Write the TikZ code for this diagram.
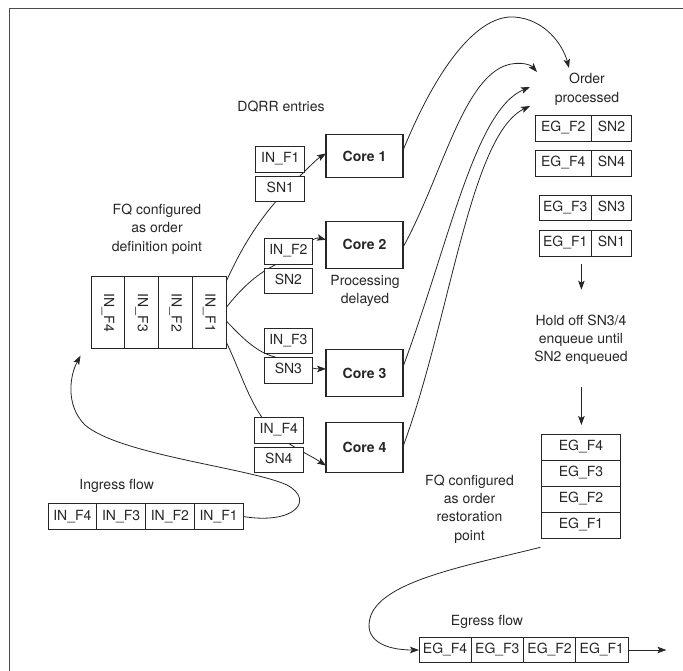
\documentclass[tikz,border=0pt]{standalone}
\usepackage{fontspec}
\setmainfont{TeX Gyre Heros}
\usetikzlibrary{arrows.meta,positioning,backgrounds}
\colorlet{inkGray}{black!85}
\newcommand{\lblfont}{\fontsize{14}{18.2}\selectfont}

\begin{document}
\begin{tikzpicture}[x=1pt,y=-1pt,font=\lblfont,text=inkGray,
  cell/.style={draw=inkGray,line width=.9pt,fill=white,inner sep=0pt,outer sep=0pt,minimum height=25.5pt,text height=10pt,text depth=3pt},
  vcell/.style={draw=inkGray,line width=.9pt,fill=white,inner sep=0pt,outer sep=0pt,minimum width=33.75pt,minimum height=71.8pt},
  corebox/.style={draw=inkGray,line width=1.1pt,fill=white,inner sep=0pt,outer sep=0pt,minimum width=77pt,minimum height=47pt,font=\lblfont\bfseries},
  note/.style={align=center,inner sep=0pt},
  arr/.style={draw=inkGray,line width=.8pt,-{Stealth[length=9pt,width=6.5pt,inset=2pt]}}]
\useasboundingbox (0,0) rectangle (683,671);
\draw[line width=1.2pt,black!70] (9.6,671) |- (683,8.6);

% ingress queue
\node[note] (inglbl) at (116.7,485.7) {Ingress flow};
\node[cell,minimum width=48.75pt] (ing4) at (72.4,516.5) {IN\_F4};
\node[cell,minimum width=48.75pt,right=0pt of ing4] (ing3) {IN\_F3};
\node[cell,minimum width=48.75pt,right=0pt of ing3] (ing2) {IN\_F2};
\node[cell,minimum width=48.75pt,right=0pt of ing2] (ing1) {IN\_F1};

% order definition point
\node[note] (fqdef) at (157,229.2) {FQ configured\\as order\\definition point};
\node[vcell] (fq4) at (107.9,312.8) {\rotatebox{-90}{IN\_F4}};
\node[vcell,right=0pt of fq4] (fq3) {\rotatebox{-90}{IN\_F3}};
\node[vcell,right=0pt of fq3] (fq2) {\rotatebox{-90}{IN\_F2}};
\node[vcell,right=0pt of fq2] (fq1) {\rotatebox{-90}{IN\_F1}};

% DQRR entries
\node[note] (dqrr) at (281,106.5) {DQRR entries};
\node[cell,minimum width=49.2pt] (inf1) at (280.3,159.4) {IN\_F1};
\node[cell,minimum width=49.2pt,below=4pt of inf1] (sn1) {SN1};
\node[cell,minimum width=48.7pt] (inf2) at (288.4,251.4) {IN\_F2};
\node[cell,minimum width=48.7pt,below=4pt of inf2] (sn2) {SN2};
\node[cell,minimum width=48.7pt] (inf3) at (288.4,340.8) {IN\_F3};
\node[cell,minimum width=48.7pt,below=4pt of inf3] (sn3) {SN3};
\node[cell,minimum width=49.6pt] (inf4) at (278.8,430.2) {IN\_F4};
\node[cell,minimum width=49.6pt,below=4pt of inf4] (sn4) {SN4};

% cores
\node[corebox,minimum height=43pt] (core1) at (364.5,156.4) {Core 1};
\node[corebox] (core2) at (364.5,244.8) {Core 2};
\node[corebox,minimum height=46.6pt] (core3) at (364.5,372.9) {Core 3};
\node[corebox,minimum height=49.6pt] (core4) at (364.5,447.6) {Core 4};
\node[note] (delay) at (365,291.2) {Processing\\delayed};

% order processed
\node[note] (order) at (587,89.2) {Order\\processed};
\node[cell,minimum width=40pt] (opsn2) at (611.5,128.4) {SN2};
\node[cell,minimum width=56.5pt,left=0pt of opsn2] (opeg2) {EG\_F2};
\node[cell,minimum width=40pt] (opsn4) at (611.5,163.5) {SN4};
\node[cell,minimum width=56.5pt,left=0pt of opsn4] (opeg4) {EG\_F4};
\node[cell,minimum width=40pt] (opsn3) at (611.5,208.2) {SN3};
\node[cell,minimum width=52.5pt,left=0pt of opsn3] (opeg3) {EG\_F3};
\node[cell,minimum width=40pt] (opsn1) at (611.5,243.5) {SN1};
\node[cell,minimum width=52.5pt,left=0pt of opsn1] (opeg1) {EG\_F1};

\node[note] (hold) at (581,339.8) {Hold off SN3/4\\enqueue until\\SN2 enqueued};

% order restoration point
\node[note] (fqres) at (469.5,509) {FQ configured\\as order\\restoration\\point};
\node[cell,minimum width=79.2pt,minimum height=26pt] (rs4) at (581,447.3) {EG\_F4};
\node[cell,minimum width=79.2pt,minimum height=26pt,below=0pt of rs4] (rs3) {EG\_F3};
\node[cell,minimum width=79.2pt,minimum height=26pt,below=0pt of rs3] (rs2) {EG\_F2};
\node[cell,minimum width=79.2pt,minimum height=26pt,below=0pt of rs2] (rs1) {EG\_F1};

% egress queue
\node[note] (eglbl) at (487,621.7) {Egress flow};
\node[cell,minimum width=52.25pt,minimum height=24.8pt] (eg4) at (445.1,650) {EG\_F4};
\node[cell,minimum width=52.25pt,minimum height=24.8pt,right=0pt of eg4] (eg3) {EG\_F3};
\node[cell,minimum width=52.25pt,minimum height=24.8pt,right=0pt of eg3] (eg2) {EG\_F2};
\node[cell,minimum width=52.25pt,minimum height=24.8pt,right=0pt of eg2] (eg1) {EG\_F1};

\coordinate (op1) at (569,68);
\coordinate (op2) at (537,72);
\coordinate (op3) at (530,87);
\coordinate (op4) at (530,106);
\coordinate (dn1a) at (581.4,264);
\coordinate (dn1b) at (581.4,289.7);
\coordinate (dn2a) at (581.4,387.3);
\coordinate (dn2b) at (581.4,425);
\coordinate (egout) at (666.4,650);

\begin{scope}[on background layer]
% dispatch to cores
\draw[arr] ([yshift=-5pt]fq1.north east) .. controls (245,240) and (265,210) .. (300,176) .. controls (310,166) and (317,159) .. ([yshift=3pt]core1.west);
\draw[arr] ([yshift=5pt]fq1.east) .. controls (240,290) and (255,275) .. (275,265) .. controls (298,254) and (312,236) .. ([yshift=5pt]core2.west);
\draw[arr] ([yshift=-8pt]fq1.east) .. controls (240,335) and (255,352) .. (275,357) .. controls (295,362) and (310,369) .. ([yshift=4pt]core3.west);
\draw[arr] ([yshift=7pt]fq1.south east) .. controls (240,370) and (250,405) .. (268,425) .. controls (285,445) and (305,452) .. ([yshift=-18pt]core4.west);
% cores to order processed
\draw[arr] ([yshift=6pt]core1.east) .. controls (440,60) and (480,15) .. (514,17) .. controls (545,19) and (563,45) .. (op1);
\draw[arr] ([yshift=-2.5pt]core2.east) .. controls (440,180) and (460,90) .. (500,68) .. controls (515,60) and (530,64) .. (op2);
\draw[arr] ([yshift=6pt]core3.east) .. controls (450,240) and (475,110) .. (op3);
\draw[arr] ([yshift=1pt]core4.east) .. controls (450,320) and (470,135) .. (op4);
% ingress and egress
\draw[arr] (ing1.east) .. controls (295,525) and (315,500) .. (287,485) .. controls (250,468) and (120,455) .. (85,425) .. controls (65,405) and (70,375) .. ([shift={(-10.5pt,-7pt)}]fq4.south west);
\draw[arr] ([shift={(-1pt,-9pt)}]rs1.south west) .. controls (470,565) and (385,580) .. (371,615) .. controls (362,640) and (385,650) .. (eg4.west);
\draw[arr] (eg1.east) -- (egout);
\draw[arr] (dn1a) -- (dn1b);
\draw[arr] (dn2a) -- (dn2b);
\end{scope}
\end{tikzpicture}
\end{document}
